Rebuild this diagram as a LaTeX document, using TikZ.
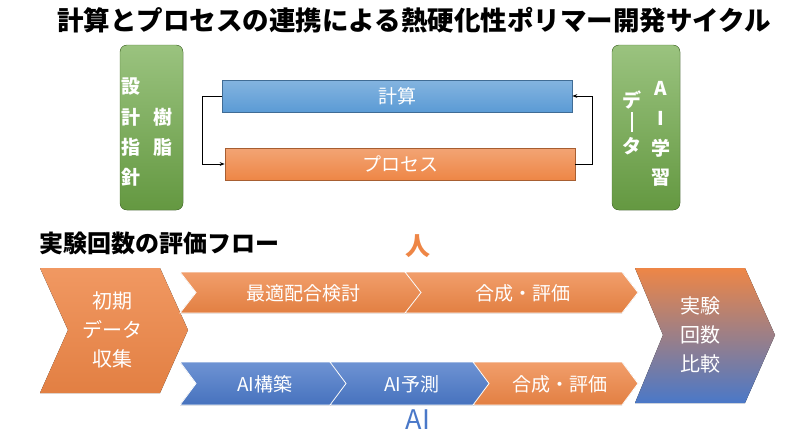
\documentclass[tikz,border=0pt]{standalone}
\usepackage{fontspec}
\setmainfont{Noto Sans CJK JP}
\usetikzlibrary{arrows.meta}
\definecolor{org}{HTML}{EE8646}
\definecolor{blu}{HTML}{5B9BD5}
\definecolor{dblu}{HTML}{4A78C8}
\definecolor{grn}{HTML}{6FA948}
\begin{document}
\begin{tikzpicture}[x=1pt,y=-1pt,
  txt/.style={text=white,font=\fontsize{19}{20}\selectfont,align=center},
  side/.style={text=white,font=\bfseries\fontsize{19}{20}\selectfont},
  bar/.style={draw=#1!70!black,line width=0.6pt,top color=#1!75!white,bottom color=#1},
  gbox/.style={rounded corners=7pt,top color=grn!70!white,bottom color=grn!90!black,draw=grn!70!black},
  conn/.style={draw=black,line width=0.8pt,-{Stealth[length=5pt]}}]
\useasboundingbox (0,0) rectangle (800,440);
\node[font=\bfseries\fontsize{26.5}{28}\selectfont] (title) at (414,20) {計算とプロセスの連携による熱硬化性ポリマー開発サイクル};
% green boxes
\filldraw[gbox] (120,45) rectangle (183,210);
\filldraw[gbox] (612,45) rectangle (680,210);
\foreach \c/\y in {設/87,計/117,指/147,針/177}{\node[side] at (131,\y) {\c};}
\node[side] (l1) at (163,117) {樹};
\node[side] (l2) at (163,147) {脂};
\foreach \c/\y in {A/88,I/118,学/148,習/178}{\node[side] at (661,\y) {\c};}
\node[side] (r1) at (632,100) {デ};
\draw[white,line width=2pt] (632,112) -- (632,132);
\node[side] (r3) at (632,146) {タ};
% bars
\node[bar=blu,minimum width=350pt,minimum height=32pt,inner sep=0,txt] (calc) at (397,96) {計算};
\node[bar=org,minimum width=350pt,minimum height=32pt,inner sep=0,txt] (proc) at (400,164) {プロセス};
\draw[conn] (calc.west) -- ++(-19,0) |- (proc.west);
\draw[conn] (proc.east) -- ++(17,0) |- (calc.east);
% lower section
\node[font=\bfseries\fontsize{24}{26}\selectfont,anchor=west] (sub) at (36,243) {実験回数の評価フロー};
\node[font=\bfseries\fontsize{25}{26}\selectfont,text=org] (hito) at (418,246) {人};
\node[font=\fontsize{27}{28}\selectfont,text=dblu] (ai) at (418,420) {AI};
% big chevrons
\fill[top color=org!85!white,bottom color=org!95!black] (40,268) -- (160,268) -- (188,330) -- (160,393) -- (40,393) -- (68,330) -- cycle;
\node[txt,font=\fontsize{20}{29}\selectfont] (init) at (112,330) {初期\\データ\\収集};
\fill[top color=org,bottom color=dblu] (635,268) -- (745,268) -- (775,335) -- (745,403) -- (635,403) -- (663,335) -- cycle;
\node[txt,font=\fontsize{20}{29}\selectfont] (cmp) at (700,335) {実験\\回数\\比較};
% small chevrons
\newcommand{\chev}[5]{\filldraw[draw=white,line width=0.8pt,top color=#5!80!white,bottom color=#5!95!black] (#1,#3) -- (#2-16,#3) -- (#2,#3/2+#4/2) -- (#2-16,#4) -- (#1,#4) -- (#1+16,#3/2+#4/2) -- cycle;}
\chev{180}{422}{272}{313}{org}
\chev{405}{638}{272}{313}{org}
\chev{180}{347}{362}{405}{dblu}
\chev{330}{490}{362}{405}{dblu}
\chev{473}{638}{362}{405}{org}
\node[txt] (a1) at (303,293) {最適配合検討};
\node[txt] (a2) at (523,293) {合成・評価};
\node[txt] (b1) at (265,384) {AI構築};
\node[txt] (b2) at (412,384) {AI予測};
\node[txt] (b3) at (560,384) {合成・評価};
\end{tikzpicture}
\end{document}
